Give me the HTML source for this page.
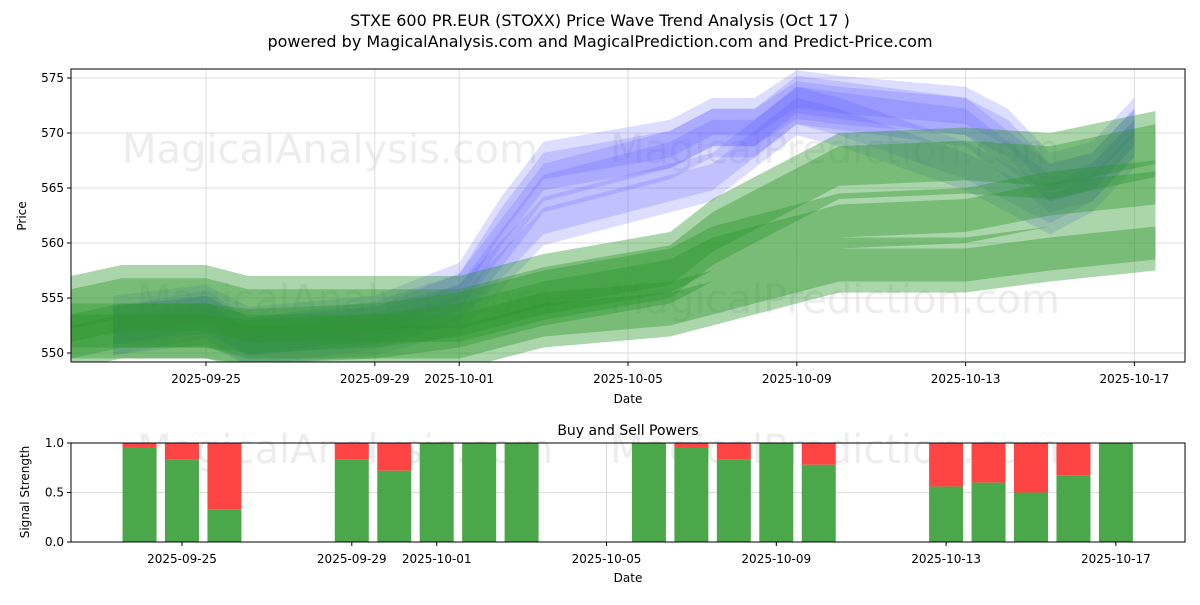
<!DOCTYPE html>
<html><head><meta charset="utf-8"><style>
body{margin:0;background:#fff;font-family:"Liberation Sans","DejaVu Sans",sans-serif}
svg text{font-family:"DejaVu Sans","Liberation Sans",sans-serif}
</style></head><body>
<svg id="c" width="1200" height="600" xmlns="http://www.w3.org/2000/svg"></svg>
<script>
const tickDates=["2025-09-25","2025-09-29","2025-10-01","2025-10-05","2025-10-09","2025-10-13","2025-10-17"];
const tickDays=[3,7,9,13,17,21,25];
const priceTicks=[550,555,560,565,570,575];
// bands: day indices (from 2025-09-22), centre values
const blueDays=[0.8,3,4,7,9,10,11,14,15,16,17,18,21,22,23,24,25];
const blue1=[552,553,551,552.5,555,560,565,568,570,570,573,572.5,571,568,565,566,570];
const blue2=[552,553.5,551,552,554,558,562,565,566,569,572,571,567,565,563,565,569];
const blue3=[553,554,552,553,556,562,567,569,571,571,573.5,573,572,570,566,567,571];
const greenDays=[-0.2,1,3,4,7,9,11,14,15,17,18,21,23,25.5];
const green1=[554,555,555,554,554,554,556,558,561,565,567,567.5,567,569];
const green2=[551,552,552,551.5,552,553,555,557,559,561,562,562.5,564,565];
const green3=[552,552,552,551,551,551,553,554,555,557,558,558,559,560];
const greenW=[3,2.5,2.5];
const barDays=[2,3,4,7,8,9,10,11,14,15,16,17,18,21,22,23,24,25];
const buyPower=[0.95,0.83,0.33,0.83,0.72,1,1,1,1,0.95,0.83,1,0.78,0.56,0.6,0.5,0.67,1];

const NS="http://www.w3.org/2000/svg",svg=document.getElementById('c');
function mk(t,a,p){const e=document.createElementNS(NS,t);for(const k in a)e.setAttribute(k,a[k]);(p||svg).appendChild(e);return e;}
const X0=71,X1=1185;
const x=d=>206+(d-3)*42.2;
const xb=d=>182+(d-3)*42.45;
const y=v=>353-(v-550)*11;
const yb=v=>542-v*99;
function txt(s,xx,yy,o){const e=mk('text',Object.assign({x:xx,y:yy,'font-size':12,fill:'#000'},o||{}));e.textContent=s;return e;}
let t=txt("STXE 600 PR.EUR (STOXX) Price Wave Trend Analysis (Oct 17 )",600,26,{'text-anchor':'middle','font-size':16});

t=txt("powered by MagicalAnalysis.com and MagicalPrediction.com and Predict-Price.com",600,47,{'text-anchor':'middle','font-size':16});

priceTicks.forEach(v=>{mk('line',{x1:X0,x2:X1,y1:y(v),y2:y(v),stroke:'#ddd'});mk('line',{x1:X0-4,x2:X0,y1:y(v),y2:y(v),stroke:'#000'});
 const l=txt(v,X0-7,y(v)+4,{'text-anchor':'end'});});
tickDays.forEach((d,i)=>{mk('line',{x1:x(d),x2:x(d),y1:69,y2:362,stroke:'#ddd'});mk('line',{x1:x(d),x2:x(d),y1:362,y2:366,stroke:'#000'});
 const l=txt(tickDates[i],x(d),383,{'text-anchor':'middle'});});
[[330,163],[835,163],[345,313],[835,313]].forEach((p,i)=>{const w=txt(i%2?"MagicalPrediction.com":"MagicalAnalysis.com",p[0],p[1],{'text-anchor':'middle','font-size':40,fill:'#ccc','fill-opacity':0.35});});
const cp=mk('clipPath',{id:'cl'});mk('rect',{x:X0,y:69,width:X1-X0,height:293},cp);
const g=mk('g',{'clip-path':'url(#cl)'});
[blue1,blue2,blue3].forEach((s,i)=>{[2.2,1.2].forEach(hw=>{
 const top=blueDays.map((d,j)=>x(d)+','+y(s[j]+hw)),bot=blueDays.map((d,j)=>x(d)+','+y(s[j]-hw)).reverse();
 const p=mk('polygon',{points:top.concat(bot).join(' '),fill:'#5555ff','fill-opacity':0.2},g);
 });});
[green1,green2,green3].forEach((s,i)=>{[greenW[i],greenW[i]*0.6].forEach(hw=>{
 const top=greenDays.map((d,j)=>x(d)+','+y(s[j]+hw)),bot=greenDays.map((d,j)=>x(d)+','+y(s[j]-hw)).reverse();
 const p=mk('polygon',{points:top.concat(bot).join(' '),fill:'#2e962e','fill-opacity':0.4},g);
 });});
mk('rect',{x:X0,y:69,width:X1-X0,height:293,fill:'none',stroke:'#000'});
t=txt("Date",628,403,{'text-anchor':'middle'});
t=txt("Price",26,216,{'text-anchor':'middle',transform:'rotate(-90 26 216)'});
// bottom
t=txt("Buy and Sell Powers",628,435,{'text-anchor':'middle','font-size':14});
[0,0.5,1].forEach(v=>{mk('line',{x1:X0,x2:X1,y1:yb(v),y2:yb(v),stroke:'#ddd'});mk('line',{x1:X0-4,x2:X0,y1:yb(v),y2:yb(v),stroke:'#000'});
 const l=txt(v.toFixed(1),X0-7,yb(v)+4,{'text-anchor':'end'});});
tickDays.forEach((d,i)=>{mk('line',{x1:xb(d),x2:xb(d),y1:443,y2:542,stroke:'#ddd'});mk('line',{x1:xb(d),x2:xb(d),y1:542,y2:546,stroke:'#000'});
 const l=txt(tickDates[i],xb(d),563,{'text-anchor':'middle'});});
[[345,463],[835,463]].forEach((p,i)=>{const w=txt(i?"MagicalPrediction.com":"MagicalAnalysis.com",p[0],p[1],{'text-anchor':'middle','font-size':40,fill:'#ccc','fill-opacity':0.35});});
barDays.forEach((d,i)=>{const w=34,bx=xb(d)-w/2;
 const r=mk('rect',{x:bx,y:yb(1),width:w,height:yb(buyPower[i])-yb(1),fill:'#ff4444'});
 
 const gb=mk('rect',{x:bx,y:yb(buyPower[i]),width:w,height:yb(0)-yb(buyPower[i]),fill:'#4aa84a'});
 });
mk('rect',{x:X0,y:443,width:X1-X0,height:99,fill:'none',stroke:'#000'});
t=txt("Date",628,582,{'text-anchor':'middle'});
t=txt("Signal Strength",29,492,{'text-anchor':'middle',transform:'rotate(-90 29 492)'});
</script>
</body></html>
